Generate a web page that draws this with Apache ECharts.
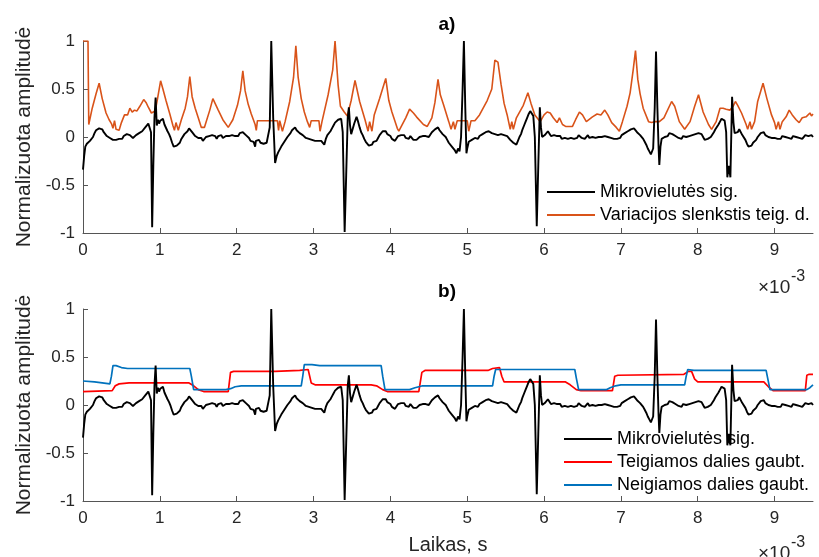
<!DOCTYPE html>
<html>
<head>
<meta charset="utf-8">
<script src="https://cdn.jsdelivr.net/npm/echarts@6/dist/echarts.min.js"></script>
<style>html,body{margin:0;padding:0;background:#fff}#c{width:819px;height:557px}</style>
</head>
<body>
<div id="c"></div>
<script>
// ---- data (time in ms; axis shown with ×10^-3 s) ----
var xTicks = [0,1,2,3,4,5,6,7,8,9];
var yTicks = [-1,-0.5,0,0.5,1];
var nameSignal = 'Mikrovielutės sig.';
var nameThresh = 'Variacijos slenkstis teig. d.';
var namePos = 'Teigiamos dalies gaubt.';
var nameNeg = 'Neigiamos dalies gaubt.';

var signal = [
[0,-0.34],[0.015,-0.2],[0.03,-0.1],[0.05,-0.07],[0.07,-0.08],[0.09,-0.04],[0.11,-0.05],[0.13,0.0],[0.15,0.04],[0.17,0.07],[0.19,0.06],[0.21,0.09],[0.23,0.07],[0.25,0.08],[0.27,0.05],[0.29,0.04],[0.31,0.01],[0.33,0.02],[0.35,-0.01],[0.37,0.0],[0.39,-0.03],[0.41,-0.01],[0.43,-0.03],[0.45,-0.01],[0.47,-0.02],[0.49,0.0],[0.51,-0.02],[0.53,0.01],[0.55,0.0],[0.57,0.03],[0.59,0.04],[0.61,0.02],[0.63,0.01],[0.65,-0.01],[0.67,0.0],[0.69,0.02],[0.71,0.01],[0.73,0.04],[0.75,0.03],[0.77,0.06],[0.79,0.08],[0.81,0.1],[0.83,0.12],[0.85,0.14],[0.87,0.15],[0.885,0.05],[0.9,-0.94],[0.915,-0.3],[0.93,0.2],[0.945,0.41],[0.96,0.12],[0.975,0.18],[0.99,0.14],[1.005,0.17],[1.02,0.15],[1.04,0.19],[1.06,0.13],[1.08,0.12],[1.1,0.06],[1.12,0.03],[1.14,-0.01],[1.16,-0.06],[1.18,-0.1],[1.2,-0.12],[1.22,-0.09],[1.24,-0.07],[1.26,-0.06],[1.28,-0.02],[1.3,0.0],[1.32,0.03],[1.34,0.05],[1.36,0.06],[1.38,0.09],[1.4,0.07],[1.42,0.05],[1.44,0.04],[1.46,0.01],[1.48,0.02],[1.5,-0.01],[1.52,-0.02],[1.54,-0.01],[1.56,-0.04],[1.58,-0.03],[1.6,0.0],[1.62,-0.02],[1.64,0.01],[1.66,-0.01],[1.68,0.02],[1.7,0.0],[1.72,0.01],[1.74,-0.02],[1.76,0.01],[1.78,0.0],[1.8,0.02],[1.82,-0.01],[1.84,0.0],[1.86,0.01],[1.88,-0.01],[1.9,0.01],[1.92,0.0],[1.94,0.02],[1.96,0.0],[1.98,0.01],[2.0,0.03],[2.02,0.01],[2.04,0.04],[2.06,0.03],[2.08,0.05],[2.1,0.04],[2.12,0.02],[2.14,0.0],[2.16,-0.01],[2.18,-0.04],[2.2,-0.03],[2.22,-0.05],[2.24,-0.1],[2.25,-0.04],[2.27,-0.05],[2.29,-0.03],[2.31,-0.06],[2.33,-0.05],[2.35,-0.07],[2.37,-0.05],[2.39,-0.06],[2.41,-0.04],[2.43,0.1],[2.45,1.0],[2.475,0.2],[2.5,-0.27],[2.52,-0.2],[2.54,-0.16],[2.56,-0.14],[2.58,-0.1],[2.6,-0.08],[2.62,-0.05],[2.64,-0.03],[2.66,0.0],[2.68,0.02],[2.7,0.04],[2.72,0.07],[2.74,0.08],[2.76,0.1],[2.78,0.07],[2.8,0.06],[2.82,0.04],[2.84,0.05],[2.86,0.02],[2.88,0.0],
[2.9,-0.01],[2.92,-0.03],[2.94,-0.02],[2.96,-0.04],[2.98,-0.03],[3.0,-0.02],[3.02,-0.04],[3.04,-0.03],[3.06,-0.04],[3.08,-0.02],[3.1,-0.04],[3.12,-0.03],[3.14,-0.08],[3.16,-0.02],[3.18,0.02],[3.2,0.04],[3.22,0.06],[3.24,0.09],[3.26,0.12],[3.28,0.15],[3.3,0.17],[3.32,0.18],[3.34,0.2],[3.36,0.19],[3.38,0.05],[3.405,-0.99],[3.425,-0.4],[3.445,0.2],[3.46,0.31],[3.475,0.12],[3.49,0.03],[3.51,0.05],[3.53,0.14],[3.56,0.21],[3.58,0.16],[3.6,0.1],[3.62,0.05],[3.64,0.02],[3.66,-0.02],[3.68,-0.05],[3.7,-0.07],[3.72,-0.09],[3.74,-0.07],[3.76,-0.08],[3.78,-0.05],[3.8,-0.03],[3.82,-0.04],[3.84,-0.01],[3.86,0.02],[3.88,0.03],[3.9,0.06],[3.92,0.04],[3.94,0.06],[3.96,0.03],[3.98,0.02],[4.0,0.01],[4.02,-0.02],[4.04,-0.01],[4.06,-0.04],[4.08,-0.02],[4.1,0.01],[4.12,-0.01],[4.14,0.02],[4.16,0.0],[4.18,0.02],[4.2,-0.01],[4.22,0.01],[4.24,-0.02],[4.26,0.01],[4.28,-0.01],[4.3,-0.03],[4.32,-0.01],[4.34,-0.03],[4.36,-0.02],[4.38,0.0],[4.4,-0.02],[4.42,0.01],[4.44,0.02],[4.46,0.01],[4.48,-0.01],[4.5,0.0],[4.52,0.02],[4.54,0.05],[4.56,0.06],[4.58,0.08],[4.6,0.09],[4.62,0.1],[4.64,0.07],[4.66,0.06],[4.68,0.03],[4.7,0.01],[4.72,0.0],[4.74,-0.03],[4.76,-0.06],[4.78,-0.08],[4.8,-0.1],[4.82,-0.12],[4.84,-0.14],[4.86,-0.17],[4.88,-0.12],[4.9,-0.15],[4.92,0.0],[4.94,0.5],[4.957,1.0],[4.975,0.3],[4.99,-0.17],[5.0,-0.12],[5.02,-0.05],[5.04,-0.06],[5.06,-0.03],[5.08,-0.04],[5.1,-0.01],[5.12,0.0],[5.14,-0.02],[5.16,0.01],[5.18,0.0],[5.2,0.03],[5.22,0.02],[5.24,0.05],[5.26,0.03],[5.28,0.06],[5.3,0.05],[5.32,0.04],[5.34,0.06],[5.36,0.03],[5.38,0.05],[5.4,0.02],[5.42,0.04],
[5.44,0.03],[5.46,0.01],[5.48,0.02],[5.5,0.0],[5.52,0.01],[5.54,-0.01],[5.56,-0.03],[5.58,-0.04],[5.6,-0.06],[5.62,-0.07],[5.64,-0.08],[5.66,-0.04],[5.68,0.0],[5.7,0.03],[5.72,0.08],[5.74,0.12],[5.76,0.16],[5.78,0.2],[5.8,0.24],[5.82,0.27],[5.84,0.28],[5.86,0.22],[5.88,0.0],[5.905,-0.93],[5.925,-0.3],[5.945,0.31],[5.96,0.1],[5.975,0.0],[5.99,-0.02],[6.01,0.02],[6.03,0.01],[6.05,0.06],[6.07,0.05],[6.09,0.01],[6.11,0.0],[6.13,0.02],
[6.15,0.0],[6.17,0.01],[6.19,-0.01],[6.21,0.01],[6.23,-0.02],[6.25,0.0],[6.27,-0.01],[6.29,0.01],[6.31,-0.02],[6.33,0.0],[6.35,-0.01],[6.37,0.01],[6.39,-0.02],[6.41,0.0],[6.43,-0.01],[6.45,0.02],[6.47,0.0],[6.49,-0.01],[6.51,0.01],[6.53,-0.02],[6.55,0.0],[6.57,0.02],[6.59,-0.01],[6.61,0.01],[6.63,0.0],[6.65,0.02],[6.67,-0.01],[6.69,0.01],[6.71,0.0],[6.73,0.02],[6.75,0.0],[6.77,-0.01],[6.79,0.01],[6.81,-0.01],[6.83,0.0],[6.85,-0.02],[6.87,-0.01],[6.89,-0.03],[6.91,-0.02],[6.93,-0.04],[6.95,-0.02],[6.97,0.0],[6.99,-0.01],[7.01,0.02],[7.03,0.01],[7.05,0.04],[7.07,0.03],[7.09,0.06],[7.11,0.05],[7.13,0.08],[7.15,0.06],[7.17,0.09],[7.19,0.07],[7.21,0.05],[7.23,0.06],[7.25,0.02],[7.27,0.0],[7.29,-0.02],[7.31,-0.05],[7.33,-0.08],[7.35,-0.12],[7.37,-0.15],[7.39,-0.18],[7.405,-0.2],[7.42,-0.12],[7.44,0.3],[7.457,0.89],[7.475,0.3],[7.49,-0.1],[7.5,-0.29],[7.515,-0.1],[7.53,-0.02],[7.55,-0.04],[7.57,0.0],[7.59,0.02],[7.61,0.01],[7.63,0.04],[7.65,0.05],[7.67,0.03],[7.69,0.04],[7.71,0.01],[7.73,0.02],[7.75,-0.01],[7.77,0.0],[7.79,-0.02],[7.81,0.01],[7.83,-0.01],[7.85,0.0],[7.87,-0.02],[7.89,0.01],[7.91,0.0],[7.93,0.02],[7.95,0.01],[7.97,0.03],[7.99,0.02],[8.01,0.04],[8.03,0.02],[8.05,0.03],[8.07,0.0],[8.09,-0.03],[8.11,-0.05],[8.13,-0.02],[8.15,-0.04],[8.17,0.0],[8.19,0.02],[8.21,0.05],[8.23,0.08],[8.25,0.1],[8.27,0.13],[8.29,0.16],[8.31,0.19],[8.33,0.21],[8.35,0.17],[8.37,0.05],[8.385,-0.42],[8.405,-0.3],[8.425,-0.42],[8.447,0.42],[8.465,0.15],[8.48,0.04],[8.5,0.06],[8.52,0.05],[8.54,0.08],[8.56,0.06],[8.58,0.02],[8.6,0.0],[8.62,-0.03],[8.64,-0.07],[8.66,-0.1],[8.68,-0.12],[8.7,-0.09],[8.72,-0.06],[8.74,-0.07],[8.76,-0.03],[8.78,0.0],[8.8,0.02],[8.82,0.04],[8.84,0.03],[8.86,0.05],[8.88,0.02],[8.9,0.03],[8.92,0.0],[8.94,0.01],[8.96,-0.01],[8.98,-0.02],[9.0,-0.01],[9.02,-0.03],[9.04,-0.02],[9.06,0.0],[9.08,-0.02],[9.1,0.01],[9.12,-0.01],[9.14,0.0],[9.16,0.02],[9.18,-0.01],[9.2,0.0],[9.22,-0.02],[9.24,0.01],[9.26,-0.01],[9.28,0.0],[9.3,0.02],[9.32,-0.01],[9.34,0.01],[9.36,-0.02],[9.38,0.0],[9.4,0.02],[9.42,0.0],[9.44,0.01],[9.46,-0.01],[9.48,0.02],[9.5,0.0]
];

var threshold = [
[0,1.0],[0.065,1.0],[0.075,0.13],[0.12,0.3],[0.17,0.45],[0.21,0.56],[0.25,0.4],[0.3,0.25],[0.34,0.18],[0.37,0.14],[0.39,0.09],[0.41,0.17],[0.43,0.08],[0.47,0.07],[0.5,0.15],[0.54,0.23],[0.58,0.23],[0.61,0.3],[0.64,0.26],[0.67,0.28],[0.7,0.27],[0.74,0.32],[0.79,0.39],[0.82,0.36],[0.85,0.31],[0.89,0.25],[0.94,0.27],[0.97,0.4],[1.01,0.585],[1.04,0.5],[1.08,0.38],[1.13,0.24],[1.17,0.12],[1.19,0.07],[1.21,0.15],[1.24,0.07],[1.28,0.18],[1.33,0.3],[1.36,0.42],[1.39,0.63],[1.42,0.42],[1.46,0.3],[1.5,0.2],[1.54,0.1],[1.58,0.1],[1.65,0.28],[1.69,0.4],[1.76,0.28],[1.82,0.18],[1.89,0.1],[1.95,0.18],[2.01,0.33],[2.05,0.48],[2.08,0.69],[2.11,0.48],[2.15,0.34],[2.19,0.24],[2.24,0.13],[2.255,0.07],[2.27,0.17],[2.53,0.17],[2.545,0.07],[2.56,0.17],[2.58,0.17],[2.595,0.06],[2.63,0.16],[2.69,0.37],[2.74,0.62],[2.77,0.95],[2.8,0.62],[2.84,0.4],[2.88,0.26],[2.92,0.16],[2.95,0.1],[2.97,0.17],[3.07,0.17],[3.085,0.06],[3.11,0.16],[3.19,0.44],[3.25,0.7],[3.28,1.0],[3.32,0.54],[3.35,0.32],[3.4,0.26],[3.44,0.22],[3.49,0.38],[3.54,0.59],[3.6,0.37],[3.67,0.18],[3.71,0.06],[3.73,0.16],[3.76,0.06],[3.79,0.23],[3.86,0.4],[3.94,0.61],[3.98,0.38],[4.02,0.26],[4.09,0.09],[4.11,0.06],[4.2,0.2],[4.25,0.29],[4.3,0.25],[4.34,0.21],[4.43,0.13],[4.48,0.11],[4.54,0.2],[4.58,0.36],[4.62,0.6],[4.65,0.44],[4.69,0.34],[4.76,0.16],[4.79,0.08],[4.82,0.16],[4.84,0.08],[4.87,0.17],[5.0,0.17],[5.02,0.06],[5.05,0.17],[5.1,0.17],[5.16,0.23],[5.26,0.38],[5.32,0.5],[5.36,0.8],[5.4,0.78],[5.44,0.55],[5.48,0.35],[5.52,0.23],[5.56,0.08],[5.58,0.16],[5.6,0.08],[5.64,0.2],[5.73,0.33],[5.79,0.46],[5.83,0.35],[5.88,0.23],[5.95,0.16],[6.0,0.23],[6.04,0.26],[6.08,0.25],[6.12,0.2],[6.17,0.15],[6.2,0.2],[6.24,0.13],[6.28,0.11],[6.37,0.11],[6.41,0.18],[6.46,0.26],[6.5,0.23],[6.55,0.16],[6.63,0.21],[6.69,0.24],[6.74,0.23],[6.79,0.28],[6.83,0.23],[6.88,0.15],[6.94,0.1],[6.98,0.06],[7.02,0.16],[7.08,0.32],[7.12,0.46],[7.16,0.7],[7.19,0.9],[7.22,0.6],[7.25,0.45],[7.29,0.3],[7.36,0.16],[7.4,0.15],[7.44,0.16],[7.5,0.16],[7.56,0.2],[7.66,0.37],[7.7,0.32],[7.76,0.16],[7.83,0.08],[7.9,0.16],[7.96,0.32],[8.01,0.44],[8.07,0.26],[8.14,0.13],[8.18,0.08],[8.24,0.16],[8.29,0.3],[8.33,0.3],[8.37,0.29],[8.42,0.28],[8.46,0.32],[8.49,0.37],[8.52,0.33],[8.57,0.25],[8.63,0.13],[8.65,0.08],[8.68,0.16],[8.7,0.08],[8.74,0.16],[8.78,0.37],[8.85,0.56],[8.9,0.4],[8.96,0.23],[9.0,0.15],[9.02,0.08],[9.05,0.16],[9.07,0.08],[9.1,0.16],[9.15,0.21],[9.19,0.28],[9.23,0.23],[9.28,0.18],[9.32,0.15],[9.36,0.2],[9.41,0.21],[9.46,0.25],[9.48,0.22],[9.5,0.24]
];

var envPos = [
[0,0.14],[0.38,0.15],[0.42,0.2],[0.47,0.22],[0.6,0.23],[1.38,0.23],[1.44,0.2],[1.5,0.16],[1.57,0.14],[1.89,0.14],[1.92,0.34],[1.96,0.35],[2.5,0.35],[2.82,0.36],[2.93,0.37],[2.97,0.23],[3.02,0.21],[3.75,0.21],[3.82,0.2],[3.9,0.16],[3.96,0.14],[4.37,0.14],[4.41,0.34],[4.45,0.36],[5.27,0.36],[5.33,0.38],[5.42,0.39],[5.45,0.3],[5.48,0.24],[6.28,0.24],[6.34,0.21],[6.42,0.16],[6.48,0.15],[6.89,0.15],[6.92,0.3],[6.96,0.31],[7.82,0.32],[7.88,0.35],[7.92,0.35],[7.96,0.27],[8.0,0.24],[8.86,0.24],[8.92,0.19],[8.98,0.15],[9.4,0.15],[9.42,0.31],[9.45,0.32],[9.5,0.32]
];

var envNeg = [
[0,0.25],[0.15,0.24],[0.35,0.22],[0.37,0.3],[0.39,0.41],[0.43,0.41],[0.5,0.39],[0.58,0.38],[1.39,0.38],[1.41,0.3],[1.44,0.16],[1.86,0.16],[1.92,0.17],[1.98,0.19],[2.06,0.2],[2.84,0.2],[2.86,0.3],[2.88,0.42],[2.98,0.42],[3.08,0.41],[3.88,0.41],[3.9,0.3],[3.93,0.16],[4.25,0.16],[4.32,0.18],[4.42,0.2],[5.33,0.2],[5.35,0.3],[5.37,0.37],[6.4,0.37],[6.42,0.28],[6.45,0.16],[6.81,0.16],[6.86,0.18],[6.93,0.2],[7.0,0.21],[7.83,0.21],[7.85,0.3],[7.87,0.37],[7.95,0.36],[8.89,0.36],[8.91,0.28],[8.94,0.16],[9.42,0.16],[9.46,0.18],[9.5,0.21]
];

// ---- chart ----
var FONT = 'Liberation Sans, Arial, Helvetica, sans-serif';
var AX = '#262626';
function xAxisCfg(idx, withName) {
  var a = {
    type: 'value', gridIndex: idx, min: 0, max: 9.5,
    axisLine: {show: true, onZero: false, lineStyle: {color: '#555', width: 1}},
    axisTick: {show: true, inside: true, length: 5, customValues: xTicks, lineStyle: {color: '#555'}},
    axisLabel: {show: true, customValues: xTicks, margin: 9, fontSize: 17, color: AX, fontFamily: FONT},
    splitLine: {show: false}
  };
  if (withName) {
    a.name = 'Laikas, s'; a.nameLocation = 'middle'; a.nameGap = 34;
    a.nameTextStyle = {fontSize: 20, color: AX, fontFamily: FONT};
  }
  return a;
}
function yAxisCfg(idx) {
  return {
    type: 'value', gridIndex: idx, min: -1, max: 1,
    name: 'Normalizuota amplitudė', nameLocation: 'middle', nameGap: 46, nameRotate: 90,
    nameTextStyle: {fontSize: 21, color: AX, fontFamily: FONT},
    axisLine: {show: true, onZero: false, lineStyle: {color: '#555', width: 1}},
    axisTick: {show: true, inside: true, length: 5, customValues: yTicks, lineStyle: {color: '#555'}},
    axisLabel: {show: true, customValues: yTicks, margin: 8, fontSize: 17, color: AX, fontFamily: FONT},
    splitLine: {show: false}
  };
}
function lineSeries(name, data, color, xi, z, w) {
  return {
    type: 'line', name: name, data: data, xAxisIndex: xi, yAxisIndex: xi,
    symbol: 'none', showSymbol: false, sampling: null, smooth: false, z: z,
    lineStyle: {color: color, width: w}, itemStyle: {color: color},
    emphasis: {disabled: true}, animation: false
  };
}
function legendCfg(names, left, top) {
  return {
    data: names, orient: 'vertical', left: left, top: top,
    icon: 'rect', itemWidth: 48, itemHeight: 2, itemGap: 3, selectedMode: false,
    textStyle: {fontSize: 18, lineHeight: 20, color: '#000', fontFamily: FONT},
    padding: 0
  };
}
var BLACK = '#000000', ORANGE = '#D95319', RED = '#FF0000', BLUE = '#0072BD';

var chart = echarts.init(document.getElementById('c'), null, {renderer: 'canvas'});
chart.setOption({
  animation: false,
  backgroundColor: '#fff',
  grid: [
    {left: 83, top: 41, width: 730, height: 192, containLabel: false, outerBoundsMode: 'none'},
    {left: 83, top: 309, width: 730, height: 192, containLabel: false, outerBoundsMode: 'none'}
  ],
  xAxis: [xAxisCfg(0, false), xAxisCfg(1, true)],
  yAxis: [yAxisCfg(0), yAxisCfg(1)],
  legend: [
    legendCfg([nameSignal, nameThresh], 547, 182),
    legendCfg([nameSignal, namePos, nameNeg], 564, 429)
  ],
  series: [
    lineSeries(nameThresh, threshold, ORANGE, 0, 2, 1.6),
    lineSeries(nameSignal, signal, BLACK, 0, 3, 1.9),
    lineSeries(namePos, envPos, RED, 1, 2, 1.7),
    lineSeries(nameNeg, envNeg, BLUE, 1, 2, 1.7),
    lineSeries(nameSignal, signal, BLACK, 1, 3, 1.9)
  ],
  graphic: [
    {type: 'text', x: 447, y: 25, style: {text: 'a)', fontSize: 19, fontWeight: 'bold', fontFamily: FONT, fill: '#000', align: 'center', verticalAlign: 'middle'}},
    {type: 'text', x: 447, y: 292, style: {text: 'b)', fontSize: 19, fontWeight: 'bold', fontFamily: FONT, fill: '#000', align: 'center', verticalAlign: 'middle'}},
    {type: 'text', x: 758, y: 288, style: {text: '×10', fontSize: 19, fontFamily: FONT, fill: AX, verticalAlign: 'middle'}},
    {type: 'text', x: 791, y: 277, style: {text: '-3', fontSize: 16, fontFamily: FONT, fill: AX, verticalAlign: 'middle'}},
    {type: 'text', x: 758, y: 554, style: {text: '×10', fontSize: 19, fontFamily: FONT, fill: AX, verticalAlign: 'middle'}},
    {type: 'text', x: 791, y: 543, style: {text: '-3', fontSize: 16, fontFamily: FONT, fill: AX, verticalAlign: 'middle'}}
  ]
});
</script>
</body>
</html>
